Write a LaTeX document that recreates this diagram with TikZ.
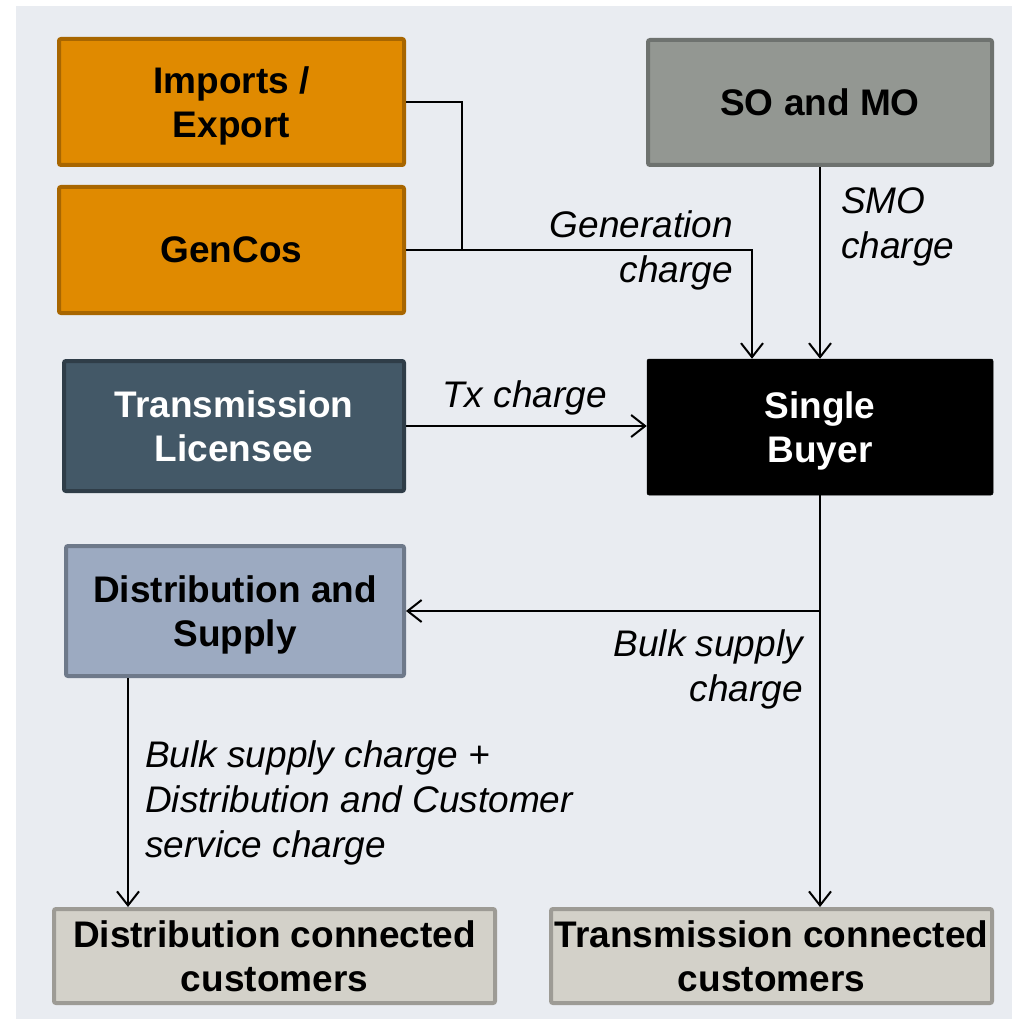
\documentclass[tikz,border=0pt]{standalone}
\usepackage{fontspec}
\setmainfont{Liberation Sans}
\usetikzlibrary{arrows.meta}
\definecolor{panel}{HTML}{E9ECF1}
\definecolor{orfill}{HTML}{E08A00}
\definecolor{ordraw}{HTML}{A86600}
\definecolor{sofill}{HTML}{939792}
\definecolor{sodraw}{HTML}{6E726F}
\definecolor{tlfill}{HTML}{435867}
\definecolor{tldraw}{HTML}{2F3D48}
\definecolor{dsfill}{HTML}{9CAAC1}
\definecolor{dsdraw}{HTML}{6E798A}
\definecolor{cufill}{HTML}{D3D1C9}
\definecolor{cudraw}{HTML}{9D9B95}
\tikzset{
  box/.style={rectangle, rounded corners=2pt, line width=4pt, align=center,
    font=\fontsize{37}{44}\selectfont\bfseries, inner sep=0pt, text depth=0pt},
  lbl/.style={font=\fontsize{37}{45}\selectfont\itshape, inner sep=0pt},
  arr/.style={line width=2pt, -{Straight Barb[length=14pt,width=22pt,line width=2pt]}},
  ln/.style={line width=2pt}
}
\begin{document}
\begin{tikzpicture}[x=1pt,y=-1pt]
\useasboundingbox (0,0) rectangle (1012,1019);
\fill[panel] (16,6) rectangle (1012,1019);

\node[box, fill=orfill, draw=ordraw, minimum width=345, minimum height=126] (imp) at (231.5,102) {Imports /\\Export};
\node[box, fill=orfill, draw=ordraw, minimum width=345, minimum height=126] (gen) at (231.5,250) {GenCos};
\node[box, fill=sofill, draw=sodraw, minimum width=344, minimum height=125] (so) at (820,102.5) {SO and MO};
\node[box, fill=tlfill, draw=tldraw, text=white, minimum width=340, minimum height=130] (tl) at (234,426) {Transmission\\Licensee};
\node[box, fill=black, draw=black, line width=0.5pt, text=white, minimum width=346, minimum height=136] (sb) at (820,427) {Single\\Buyer};
\node[box, fill=dsfill, draw=dsdraw, minimum width=338, minimum height=130] (ds) at (235,611) {Distribution and\\Supply};
\node[box, fill=cufill, draw=cudraw, minimum width=441, minimum height=94] (dcc) at (274.5,956) {Distribution connected\\customers};
\node[box, fill=cufill, draw=cudraw, minimum width=441, minimum height=94] (tcc) at (771.5,956) {Transmission connected\\customers};

\coordinate (j) at (462,250);
\draw[ln] (imp.east) -| (j);
\draw[arr] (gen.east) -| ([xshift=-68pt]sb.north);
\draw[arr] (so.south) -- (sb.north);
\draw[arr] (tl.east) -- (tl.east -| sb.west);
\coordinate (br) at (sb.south |- ds.east);
\draw[arr] (sb.south) -- (sb.south |- tcc.north);
\draw[arr] (br) -- (ds.east);
\draw[arr] ([xshift=-107pt]ds.south) -- ([xshift=-107pt]ds.south |- dcc.north);

\node[lbl, anchor=base east, align=right] (lg) at (733,282) {Generation\\charge};
\node[lbl, anchor=base west, align=left] (ls) at (841,258) {SMO\\charge};
\node[lbl, anchor=base west] (lt) at (442,407) {Tx charge};
\node[lbl, anchor=base east, align=right] (lb) at (803,701) {Bulk supply\\charge};
\node[lbl, anchor=base west, align=left] (ld) at (145,857) {Bulk supply charge +\\Distribution and Customer\\service charge};
\end{tikzpicture}
\end{document}
